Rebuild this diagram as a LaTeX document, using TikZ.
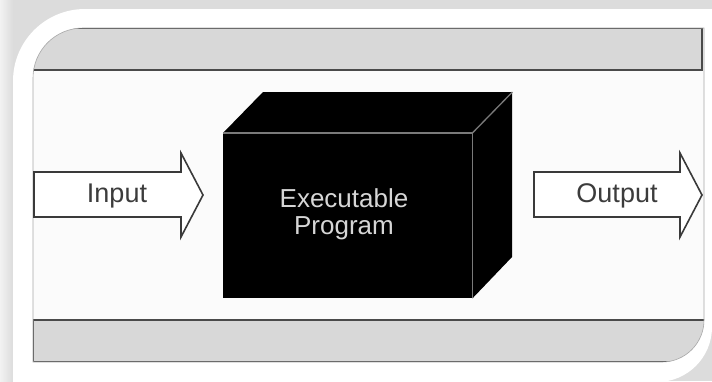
\documentclass[tikz,border=0pt]{standalone}
\usepackage{fontspec}
\setmainfont{Liberation Sans}
\definecolor{bgshade}{HTML}{DCDCDC}
\definecolor{bgleft}{HTML}{F2F2F2}
\definecolor{panelfill}{HTML}{FBFBFB}
\definecolor{panelline}{HTML}{A8A8A8}
\definecolor{barfill}{HTML}{D8D8D8}
\definecolor{barline}{HTML}{4A4A4A}
\definecolor{arrowline}{HTML}{3A3A3A}
\definecolor{edgegray}{HTML}{7A7A7A}
\definecolor{lblcol}{HTML}{3C3C3C}
\definecolor{progtext}{HTML}{D6D6D6}
\begin{document}
\begin{tikzpicture}[x=1pt,y=-1pt,
  bar/.style={fill=barfill, draw=barline, line width=1.4pt},
  blockarrow/.style={fill=white, draw=arrowline, line width=1.6pt, line join=miter},
  edgethree/.style={draw=edgegray, line width=1.3pt},
  lbl/.style={font=\fontsize{27}{30}\selectfont, text=lblcol, inner sep=0pt},
  progtxt/.style={font=\fontsize{26}{27}\selectfont, text=progtext, align=center, inner sep=0pt}]
\useasboundingbox (0,0) rectangle (712,381);
% background / shadow
\fill[bgshade] (0,0) rectangle (712,381);
\shade[left color=bgleft, right color=bgshade] (0,0) rectangle (13,381);
% outer white frame
\fill[white] (13,81) .. controls (13,41.3) and (45.2,9) .. (85,9) -- (712,9) -- (712,327)
  .. controls (712,357.4) and (687.4,382) .. (657,382) -- (13,382) -- cycle;
% inner panel
\def\panelpath{(33,78) .. controls (33,50.4) and (55.4,28) .. (83,28) -- (704,28) -- (704,320)
  .. controls (704,343.2) and (685.2,362) .. (662,362) -- (33,362) -- cycle}
\fill[panelfill] \panelpath;
\begin{scope}
  \clip \panelpath;
  \draw[bar] (33.7,28.7) rectangle (702,70);
  \draw[bar] (33.7,320) rectangle (706,361.3);
\end{scope}
\draw[panelline, line width=0.6pt] \panelpath;
% cube
\node[fill=black, draw=none, minimum width=249pt, minimum height=165pt, inner sep=0pt, anchor=north west] (front) at (223,133) {};
\fill[black] (front.north west) -- ++(40,-41) -- ++(249,0) -- ++(0,165) -- (front.south east) -- (front.north east) -- cycle;
\draw[edgethree] (front.north west) -- (front.north east) -- (front.south east);
\draw[edgethree] (front.north east) -- ++(40,-41);
\node[progtxt] (prog) at (344,214) {Executable\\Program};
% block arrows
\draw[blockarrow] (34,172) -- (181,172) -- (181,153) -- (203,195) -- (181,237) -- (181,217) -- (34,217) -- cycle;
\draw[blockarrow] (534,172) -- (680,172) -- (680,153) -- (702,195) -- (680,237) -- (680,217) -- (534,217) -- cycle;
\node[lbl] (in) at (117,196) {Input};
\node[lbl] (out) at (617,196) {Output};
\end{tikzpicture}
\end{document}
